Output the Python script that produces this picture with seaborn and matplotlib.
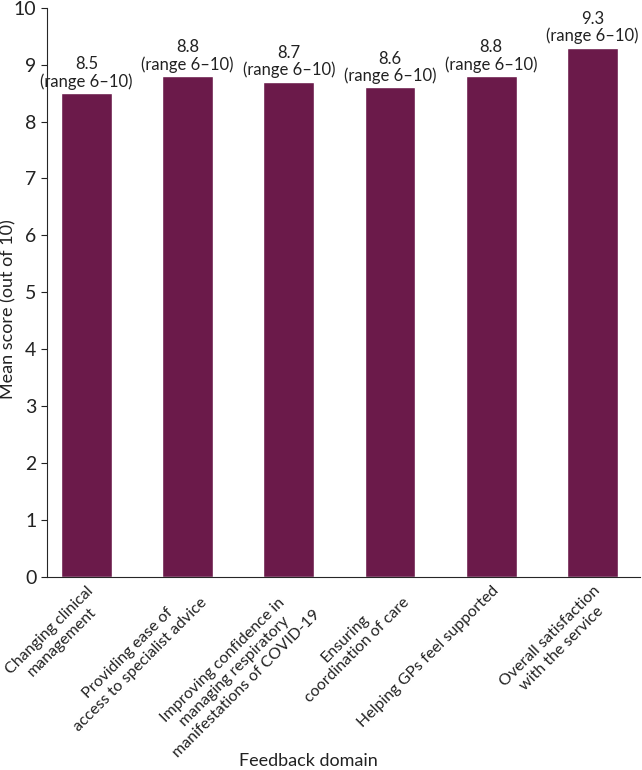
import matplotlib
matplotlib.use('Agg')
import matplotlib.pyplot as plt
import seaborn as sns
import pandas as pd

# Data
domains = ['Changing clinical\nmanagement',
           'Providing ease of\naccess to specialist advice',
           'Improving confidence in\nmanaging respiratory\nmanifestations of COVID-19',
           'Ensuring\ncoordination of care',
           'Helping GPs feel supported',
           'Overall satisfaction\nwith the service']
scores = [8.5, 8.8, 8.7, 8.6, 8.8, 9.3]
ranges = ['range 6–10'] * 6

df = pd.DataFrame({'domain': domains, 'score': scores})

sns.set_style('ticks')
plt.rcParams['font.family'] = ['Lato', 'DejaVu Sans']

fig = plt.figure(figsize=(6.42, 7.7), dpi=100)
ax = fig.add_axes([0.073, 0.251, 0.924, 0.739])
sns.barplot(data=df, x='domain', y='score', color='#6B1A4A', saturation=1,
            width=0.5, ax=ax)

for i, (s, r) in enumerate(zip(scores, ranges)):
    ax.text(i, s + 0.06, f'{s}\n({r})', ha='center', va='bottom',
            fontsize=12, linespacing=1.05, color='#222222')

ax.set_ylim(0, 10)
ax.set_xlim(-0.39, 5.47)
ax.set_yticks(range(11))
ax.tick_params(axis='y', labelsize=14, length=4, colors='#222222')
ax.tick_params(axis='x', length=0, labelsize=11.5, colors='#222222', pad=5)
plt.setp(ax.get_xticklabels(), rotation=45, ha='right', rotation_mode='anchor',
         multialignment='center', linespacing=1.25)
ax.set_ylabel('Mean score (out of 10)', fontsize=13, color='#222222')
ax.set_xlabel('Feedback domain', fontsize=13, color='#222222')
ax.xaxis.set_label_coords(0.44, -0.31)
ax.yaxis.set_label_coords(-0.052, 0.47)
sns.despine(ax=ax)

fig.savefig('out.png', dpi=100)
